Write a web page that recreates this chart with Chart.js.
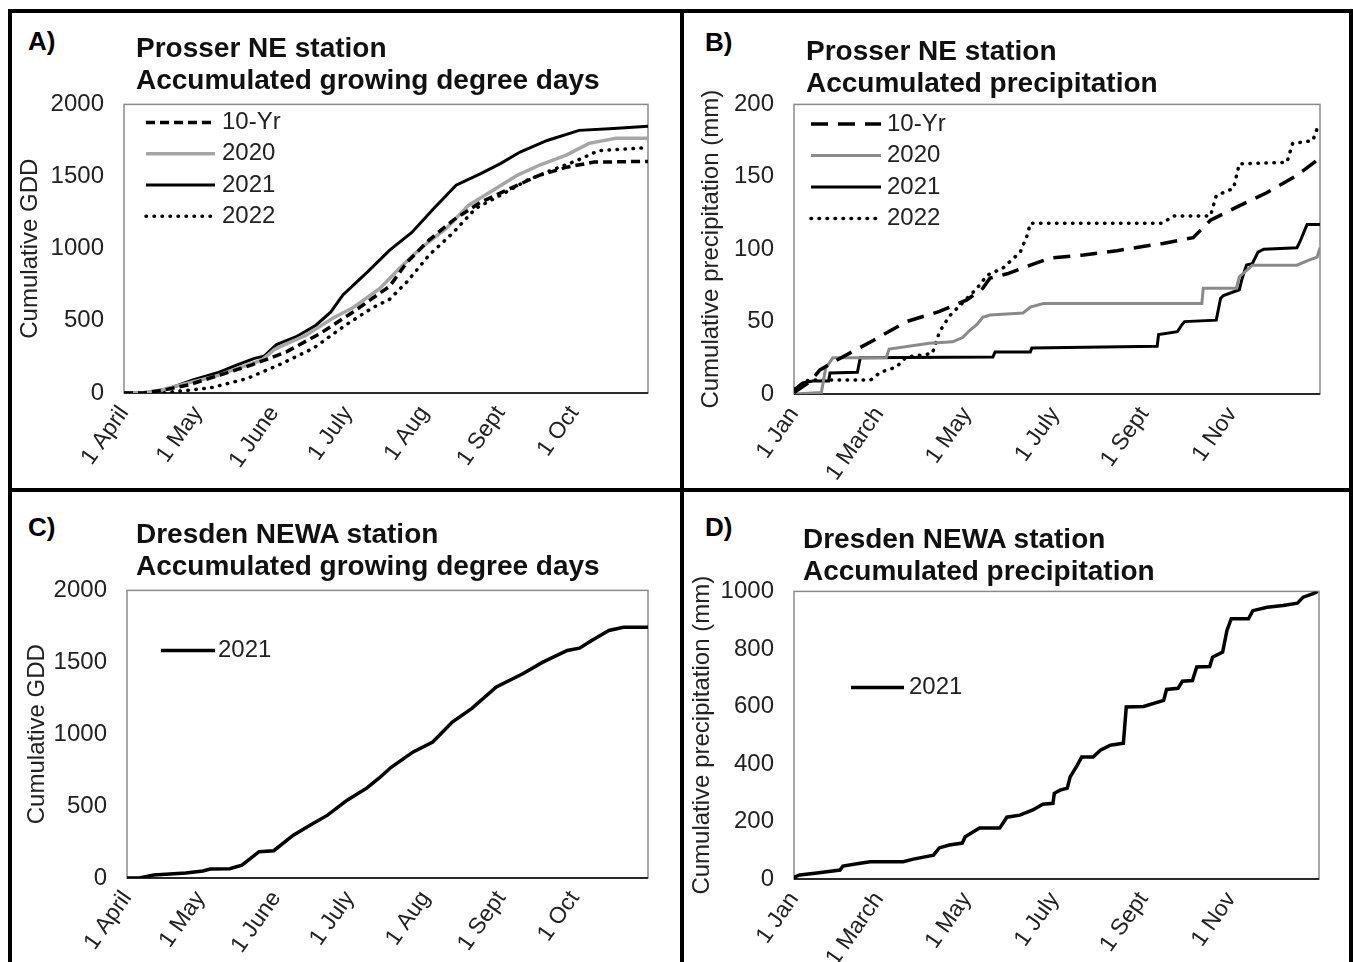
<!DOCTYPE html>
<html lang="en">
<head>
<meta charset="UTF-8">
<title>Prosser NE and Dresden NEWA stations</title>
<script src="https://cdn.jsdelivr.net/npm/chart.js"></script>
<style>
  body { margin: 0; background: #fff; font-family: "Liberation Sans", Arial, sans-serif; }
  #page { position: relative; width: 1353px; height: 962px; overflow: hidden; background: #fff; }
  .rule { position: absolute; background: #000; }
  .tag { position: absolute; font-weight: bold; font-size: 26px; line-height: 30px; color: #000; }
  .title { position: absolute; font-weight: bold; font-size: 28px; line-height: 32px; color: #111; white-space: nowrap; }
  canvas { position: absolute; }
</style>
</head>
<body>
<div id="page">
  <div class="rule" style="left:8px;top:9px;width:1345px;height:4px"></div>
  <div class="rule" style="left:8px;top:9px;width:4px;height:953px"></div>
  <div class="rule" style="left:680px;top:9px;width:4px;height:953px"></div>
  <div class="rule" style="left:1349px;top:9px;width:4px;height:953px"></div>
  <div class="rule" style="left:8px;top:488px;width:1345px;height:4px"></div>

  <canvas id="chartA" width="668" height="418" style="left:12px;top:70px"></canvas>
  <canvas id="chartB" width="665" height="418" style="left:684px;top:70px"></canvas>
  <canvas id="chartC" width="668" height="406" style="left:12px;top:556px"></canvas>
  <canvas id="chartD" width="665" height="405" style="left:684px;top:557px"></canvas>

  <div class="tag" style="left:28px;top:26px">A)</div>
  <div class="title" style="left:136px;top:32px">Prosser NE station<br>Accumulated growing degree days</div>
  <div class="tag" style="left:705px;top:27px">B)</div>
  <div class="title" style="left:806px;top:35px">Prosser NE station<br>Accumulated precipitation</div>
  <div class="tag" style="left:28px;top:512px">C)</div>
  <div class="title" style="left:136px;top:518px">Dresden NEWA station<br>Accumulated growing degree days</div>
  <div class="tag" style="left:705px;top:512px">D)</div>
  <div class="title" style="left:803px;top:523px">Dresden NEWA station<br>Accumulated precipitation</div>
</div>

<script>
// x values are days counted from the first day of the axis (1 April or 1 Jan)
const gddTickDays = [0, 30, 61, 91, 122, 153, 183];
const gddTickLabels = ['1 April', '1 May', '1 June', '1 July', '1 Aug', '1 Sept', '1 Oct'];
const precipTickDays = [0, 59, 120, 181, 243, 304];
const precipTickLabels = ['1 Jan', '1 March', '1 May', '1 July', '1 Sept', '1 Nov'];
const seriesNames = ['10-Yr', '2020', '2021', '2022'];

// A) Prosser NE, cumulative GDD
const prosserGdd10yr = [[0,0],[8,0],[16,20],[26,55],[39,125],[52,195],[66,285],[80,415],[93,560],[108,740],[115,905],[124,1060],[134,1200],[145,1322],[158,1425],[169,1510],[180,1565],[191,1600],[213,1605]];
const prosserGdd2020 = [[0,0],[7,0],[15,20],[25,65],[38,120],[46,170],[56,228],[61,300],[63,318],[74,400],[85,520],[93,590],[104,725],[112,865],[121,1010],[131,1140],[140,1300],[150,1405],[160,1510],[169,1580],[180,1650],[189,1730],[200,1765],[213,1765]];
const prosserGdd2021 = [[0,0],[10,0],[19,35],[28,90],[38,140],[46,195],[53,240],[57,255],[62,335],[70,390],[78,470],[84,560],[89,680],[99,840],[108,990],[117,1113],[126,1280],[135,1440],[145,1520],[153,1590],[161,1670],[172,1750],[185,1820],[199,1833],[213,1848]];
const prosserGdd2022 = [[0,0],[15,0],[35,35],[50,100],[63,195],[77,310],[90,470],[101,590],[108,650],[115,770],[124,955],[134,1115],[143,1280],[153,1370],[164,1475],[174,1545],[184,1610],[193,1680],[213,1700]];

// B) Prosser NE, cumulative precipitation (mm)
const prosserPrecip10yr = [[0,1],[11,8.5],[18,16.6],[27,22],[55,37],[78,50],[101,57],[120,65],[131,73],[136,80],[148,83],[164,89],[178,94],[201,96],[224,99],[256,104],[277,108],[289,120],[305,128],[328,139],[349,151],[365,163]];
const prosserPrecip2020 = [[0,0],[19,1],[22,18],[27,25],[64,25],[66,31],[94,35],[110,36],[117,39],[122,44],[127,48],[131,53],[136,54.5],[159,56],[164,60],[173,62.5],[283,62.5],[284,73],[307,73],[309,81],[316,87],[318,89],[349,89],[356,92],[363,94.5],[365,101]];
const prosserPrecip2021 = [[0,3],[6,7.6],[13,9],[24,9],[25,14.5],[44,15],[46,25],[138,25.5],[139.5,29],[164,29],[165,31.7],[252,33],[253,41],[266,43],[269,47.6],[271,50],[293,51],[296,66],[298,68],[309,72],[311,80],[314,89],[318,90],[322,98],[326,100],[349,101],[351,105],[356,117],[365,117]];
const prosserPrecip2022 = [[0,3],[10,9.6],[53,9.6],[60,15],[71,18.6],[78,25.5],[96,28],[101,43],[108,54],[117,63],[127,73],[134,82],[145,87],[157,98],[162,110],[164,118],[256,118],[263,123],[289,123],[293,137],[305,142],[309,159],[342,160],[346,173],[360,175],[364,186]];

// C) Dresden NEWA, cumulative GDD 2021
const dresdenGdd2021 = [[0,0],[5,0],[11,21],[24,35],[31,49],[34,62],[42,65],[47,90],[54,183],[60,190],[68,298],[75,368],[82,437],[90,541],[98,625],[103,694],[108,770],[117,877],[125,946],[133,1085],[141,1180],[151,1328],[162,1422],[170,1501],[180,1582],[185,1598],[190,1652],[197,1721],[203,1744],[213,1744]];

// D) Dresden NEWA, cumulative precipitation 2021 (mm)
const dresdenPrecip2021 = [[0,0],[1,8],[4,14],[16,21],[32,31],[34,45],[46,55],[53,60],[76,60],[83,69],[97,83],[101,108],[108,118],[117,125],[119,147],[129,177],[143,177],[148,215],[157,222],[166,240],[173,260],[180,263],[181,298],[185,309],[190,316],[192,355],[197,396],[200,424],[208,424],[213,448],[220,465],[229,472],[231,598],[243,600],[257,621],[259,659],[267,663],[270,688],[277,690],[280,737],[289,739],[291,771],[298,789],[301,864],[304,905],[316,905],[319,933],[329,945],[340,951],[350,959],[354,980],[361,992],[364,1000]];

const FONT = '"Liberation Sans", Arial, sans-serif';

function pts(arr) {
  return arr.map(p => ({ x: p[0], y: p[1] }));
}

// grey frame round the plot area, darker line along the x axis
const plotBox = {
  id: 'plotBox',
  beforeDatasetsDraw(chart) {
    const { ctx, chartArea: a } = chart;
    ctx.save();
    ctx.strokeStyle = '#8a8a8a';
    ctx.lineWidth = 1.5;
    ctx.strokeRect(a.left, a.top, a.right - a.left, a.bottom - a.top);
    ctx.strokeStyle = '#2a2a2a';
    ctx.lineWidth = 2;
    ctx.beginPath();
    ctx.moveTo(a.left, a.bottom);
    ctx.lineTo(a.right, a.bottom);
    ctx.stroke();
    ctx.restore();
  }
};

// legend drawn inside the plot, top left
const insideLegend = {
  id: 'insideLegend',
  afterDatasetsDraw(chart, args, opts) {
    const { ctx, chartArea } = chart;
    ctx.save();
    ctx.font = '24px ' + FONT;
    ctx.textBaseline = 'middle';
    ctx.fillStyle = '#222';
    chart.data.datasets.forEach((ds, i) => {
      const y = chartArea.top + opts.top + i * opts.rowGap;
      const x0 = chartArea.left + opts.left;
      ctx.beginPath();
      ctx.strokeStyle = ds.borderColor;
      ctx.lineWidth = ds.borderWidth;
      ctx.lineCap = ds.borderCapStyle || 'butt';
      ctx.setLineDash(ds.borderDash || []);
      ctx.moveTo(x0, y);
      ctx.lineTo(x0 + opts.sample, y);
      ctx.stroke();
      ctx.setLineDash([]);
      ctx.fillText(ds.label, x0 + opts.sample + opts.gap, y);
    });
    ctx.restore();
  }
};

function makeChart(id, datasets, cfg) {
  return new Chart(document.getElementById(id), {
    type: 'line',
    data: { datasets: datasets },
    plugins: [plotBox, insideLegend],
    options: {
      responsive: false,
      animation: false,
      events: [],
      layout: { padding: { top: 0, right: cfg.padRight, left: 0, bottom: 0 } },
      elements: { point: { radius: 0 }, line: { tension: 0 } },
      plugins: {
        legend: { display: false },
        tooltip: { enabled: false },
        insideLegend: cfg.legend
      },
      scales: {
        x: {
          type: 'linear',
          min: 0,
          max: cfg.xMax,
          grid: { display: false, drawTicks: false },
          border: { display: false },
          afterBuildTicks(scale) { scale.ticks = cfg.tickDays.map(v => ({ value: v })); },
          afterFit(scale) { scale.height = cfg.xHeight; },
          ticks: {
            minRotation: 55,
            maxRotation: 55,
            padding: 8,
            color: '#222',
            font: { family: FONT, size: 23 },
            callback(value) {
              const i = cfg.tickDays.indexOf(value);
              return i >= 0 ? cfg.tickLabels[i] : '';
            }
          }
        },
        y: {
          min: 0,
          max: cfg.yMax,
          grid: { display: false, drawTicks: false },
          border: { display: false },
          afterFit(scale) { scale.width = cfg.yWidth; },
          ticks: {
            stepSize: cfg.yStep,
            padding: 20,
            color: '#222',
            font: { family: FONT, size: 24 },
            callback: value => String(value)
          },
          title: {
            display: true,
            text: cfg.yTitle,
            color: '#222',
            font: { family: FONT, size: 24 },
            padding: { top: cfg.titlePad, bottom: 0 }
          }
        }
      }
    }
  });
}

const tenYrDashA = [9, 5];
const tenYrDashB = [17, 10];
const dotted = [0.5, 7.5];

makeChart('chartA', [
  { label: seriesNames[0], data: pts(prosserGdd10yr), borderColor: '#000', borderWidth: 3.5, borderDash: tenYrDashA },
  { label: seriesNames[1], data: pts(prosserGdd2020), borderColor: '#a6a6a6', borderWidth: 3.5 },
  { label: seriesNames[2], data: pts(prosserGdd2021), borderColor: '#000', borderWidth: 3 },
  { label: seriesNames[3], data: pts(prosserGdd2022), borderColor: '#000', borderWidth: 3.5, borderDash: dotted, borderCapStyle: 'round' }
], {
  xMax: 213, tickDays: gddTickDays, tickLabels: gddTickLabels,
  yMax: 2000, yStep: 500, yTitle: 'Cumulative GDD', titlePad: 4,
  yWidth: 112, xHeight: 95, padRight: 32,
  legend: { left: 22, top: 18, rowGap: 31.3, sample: 69, gap: 7 }
});

makeChart('chartB', [
  { label: seriesNames[0], data: pts(prosserPrecip10yr), borderColor: '#000', borderWidth: 3.5, borderDash: tenYrDashB },
  { label: seriesNames[1], data: pts(prosserPrecip2020), borderColor: '#8a8a8a', borderWidth: 3 },
  { label: seriesNames[2], data: pts(prosserPrecip2021), borderColor: '#000', borderWidth: 3 },
  { label: seriesNames[3], data: pts(prosserPrecip2022), borderColor: '#000', borderWidth: 3.5, borderDash: dotted, borderCapStyle: 'round' }
], {
  xMax: 365, tickDays: precipTickDays, tickLabels: precipTickLabels,
  yMax: 200, yStep: 50, yTitle: 'Cumulative precipitation (mm)', titlePad: 13,
  yWidth: 110, xHeight: 94, padRight: 29,
  legend: { left: 17, top: 19.5, rowGap: 31.5, sample: 70, gap: 6 }
});

makeChart('chartC', [
  { label: '2021', data: pts(dresdenGdd2021), borderColor: '#000', borderWidth: 3.5 }
], {
  xMax: 213, tickDays: gddTickDays, tickLabels: gddTickLabels,
  yMax: 2000, yStep: 500, yTitle: 'Cumulative GDD', titlePad: 11,
  yWidth: 115, xHeight: 84, padRight: 32,
  legend: { left: 34, top: 60, rowGap: 31, sample: 54, gap: 3 }
});

makeChart('chartD', [
  { label: '2021', data: pts(dresdenPrecip2021), borderColor: '#000', borderWidth: 3.5 }
], {
  xMax: 365, tickDays: precipTickDays, tickLabels: precipTickLabels,
  yMax: 1000, yStep: 200, yTitle: 'Cumulative precipitation (mm)', titlePad: 4,
  yWidth: 110, xHeight: 83, padRight: 30,
  legend: { left: 57, top: 96, rowGap: 31, sample: 53, gap: 5 }
});
</script>
</body>
</html>
